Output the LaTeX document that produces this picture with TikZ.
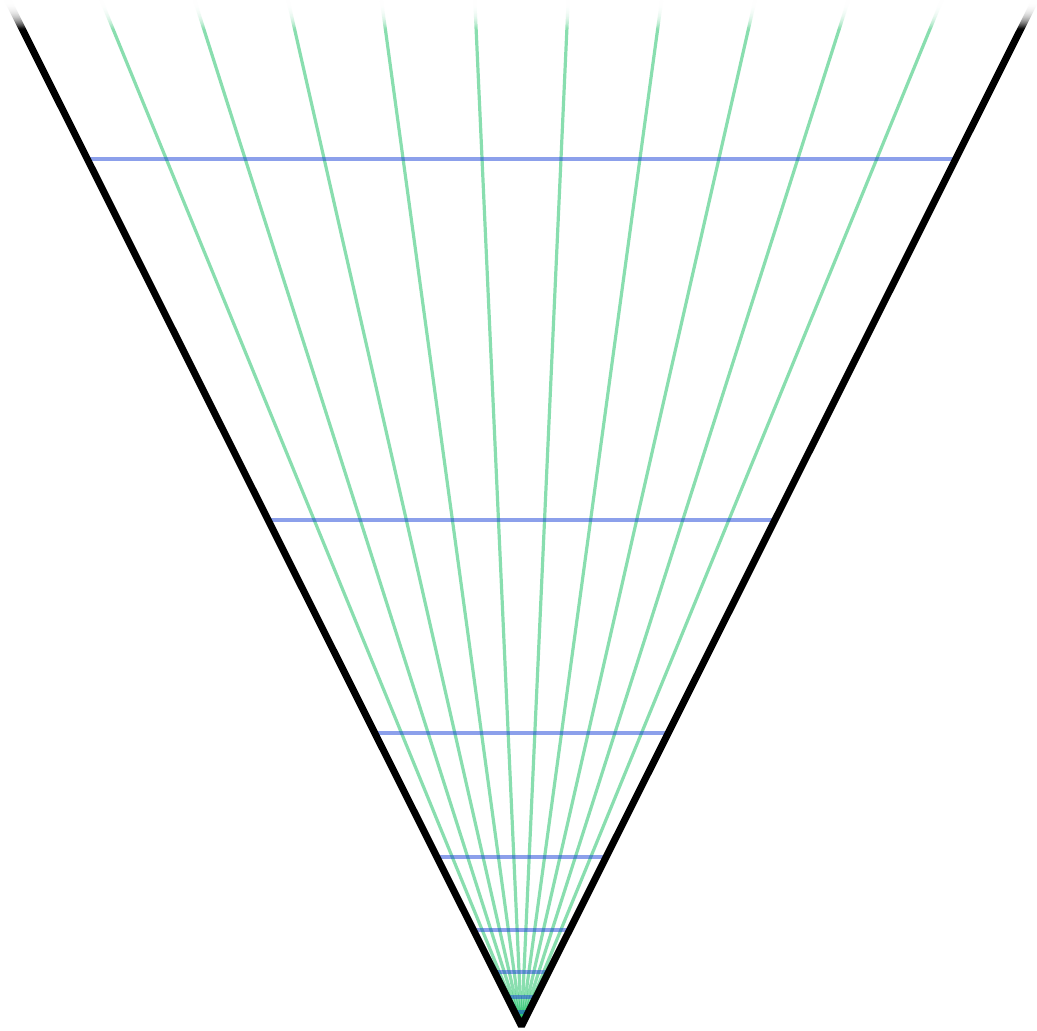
\documentclass[tikz,border=0pt]{standalone}
\usepackage{xcolor}
\usepackage{tikz}
\usetikzlibrary{calc}

\definecolor{raygreen}{RGB}{20,190,95}
\definecolor{sliceblue}{RGB}{25,65,215}

\begin{document}
\begin{tikzpicture}[
  x=0.5pt, y=-0.5pt,
  edge/.style={line width=3.5pt, black, line join=bevel},
  ray/.style={line width=1.6pt, draw=raygreen, draw opacity=0.5},
  slice/.style={line width=1.6pt, draw=sliceblue, draw opacity=0.5},
  fade/.style={fill=white, draw=none},
]
\useasboundingbox (0,0) rectangle (1037,1031);

\coordinate (apex) at (521.5,1026);
\coordinate (tl) at (6.7,-2);
\coordinate (tr) at (1036.3,-2);

% rays from the apex
\foreach \k in {-4.5,-3.5,...,4.5}
  \draw[ray] (apex) -- ({521.5+93.6*\k},-2);

% horizontal slices, shrinking towards the apex
\foreach \y in {159,520,733,857,930,972,997,1012,1020}
  \draw[slice] ({521.5-0.502*(1026-\y)},\y) -- ({521.5+0.502*(1026-\y)},\y);

% cone boundary
\draw[edge] (tl) -- (apex) -- (tr);

% fade out at the top
\foreach \k in {0,...,29}
  \fill[fade, opacity={1-(\k+0.5)/30}] (0,{\k-2}) rectangle (1037,{\k+1});

\end{tikzpicture}
\end{document}
